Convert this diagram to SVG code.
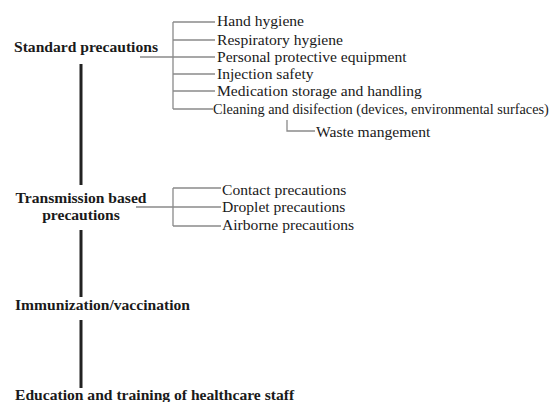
<svg xmlns="http://www.w3.org/2000/svg" width="559" height="402" viewBox="0 0 559 402">
<style>
.t{font-family:"Liberation Serif","Times New Roman",serif;font-size:15.6px;fill:#1a1a1a}
.b{font-family:"Liberation Serif","Times New Roman",serif;font-size:15.6px;font-weight:bold;fill:#1a1a1a}
.thin{stroke:#8a8a8a;stroke-width:1.3;fill:none}
.thick{stroke:#222;stroke-width:3;fill:none}
</style>
<rect width="559" height="402" fill="#fff"/>
<g id="connectors">
<path class="thick" d="M81 64V185M81 230V297M81 320V388"/>
<path class="thin" d="M140 57H173M173 22V109M173 22H215M173 40H215M173 57H215M173 74H215M173 91H215M173 109H213"/>
<path class="thin" d="M287 120V131H315"/>
<path class="thin" d="M136 207H173M173 188V226M173 188H221M173 207H221M173 226H221"/>
</g>
<g id="standard"><text class="b" x="14" y="52">Standard precautions</text></g>
<g id="hand"><text class="t" x="217" y="26">Hand hygiene</text></g>
<g id="resp"><text class="t" x="217" y="45">Respiratory hygiene</text></g>
<g id="ppe"><text class="t" x="217" y="62">Personal protective equipment</text></g>
<g id="inj"><text class="t" x="217" y="79">Injection safety</text></g>
<g id="med"><text class="t" x="217" y="96">Medication storage and handling</text></g>
<g id="clean"><text class="t" x="213" y="114" style="font-size:14.3px">Cleaning and disifection (devices, environmental surfaces)</text></g>
<g id="waste"><text class="t" x="316" y="137">Waste mangement</text></g>
<g id="transmission"><text class="b" x="81" y="203" text-anchor="middle">Transmission based</text><text class="b" x="81" y="220" text-anchor="middle">precautions</text></g>
<g id="contact"><text class="t" x="222" y="195">Contact precautions</text></g>
<g id="droplet"><text class="t" x="222" y="212">Droplet precautions</text></g>
<g id="airborne"><text class="t" x="222" y="230">Airborne precautions</text></g>
<g id="immun"><text class="b" x="15" y="310">Immunization/vaccination</text></g>
<g id="edu"><text class="b" x="15" y="400">Education and training of healthcare staff</text></g>
</svg>
